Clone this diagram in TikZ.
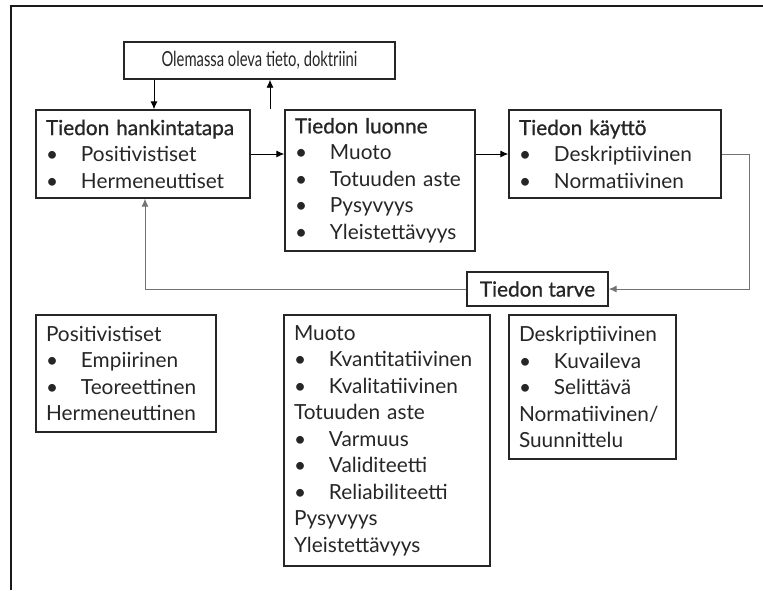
\documentclass[tikz,border=0pt]{standalone}
\usepackage{fontspec}
\setmainfont{Lato}
\newfontfamily\hdfont[FakeBold=0.9]{Lato}
\usetikzlibrary{arrows.meta}
\newcommand{\bul}{\makebox[35pt][l]{\textbullet}}
\tikzset{
  box/.style={draw=black!85, line width=1.4pt, inner xsep=10pt, inner ysep=0pt, align=left,
    text=black!85, font=\fontsize{20.8}{26.5}\selectfont},
  arr/.style={draw=black, line width=0.9pt, -{Latex[length=8pt,width=7pt]}},
  arrg/.style={draw=black!55, line width=1pt, -{Latex[length=8pt,width=7pt]}}
}
\begin{document}
\begin{tikzpicture}[x=1pt,y=-1pt]
\useasboundingbox (0,0) rectangle (763,590);
\draw[line width=2pt, black!90] (11,590) -- (11,6) -- (763,6);
\node[box, minimum width=271pt, minimum height=37pt, align=center] (title) at (259.5,60.5) {\resizebox{196pt}{\height}{Olemassa oleva tieto, doktriini}};
\node[box, minimum width=214pt, minimum height=88pt, text width=194pt] (hank) at (143,154)
  {{\hdfont Tiedon hankintatapa}\\ \bul Positivistiset\\ \bul Hermeneuttiset};
\node[box, minimum width=190pt, minimum height=141pt, text width=170pt] (luonne) at (380,180.5)
  {{\hdfont Tiedon luonne}\\ \bul Muoto\\ \bul Totuuden aste\\ \bul Pysyvyys\\ \bul Yleistettävyys};
\node[box, minimum width=212pt, minimum height=88pt, text width=192pt] (kaytto) at (615,154)
  {{\hdfont Tiedon käyttö}\\ \bul Deskriptiivinen\\ \bul Normatiivinen};
\node[box, minimum width=141pt, minimum height=34pt, align=center] (tarve) at (537.5,289)
  {\hdfont Tiedon tarve};
\node[box, minimum width=180pt, minimum height=117pt, text width=160pt] (bl) at (126,373.5)
  {Positivistiset\\ \bul Empiirinen\\ \bul Teoreettinen\\ Hermeneuttinen};
\node[box, minimum width=206pt, minimum height=251pt, text width=186pt] (bm) at (387,440.5)
  {Muoto\\ \bul Kvantitatiivinen\\ \bul Kvalitatiivinen\\ Totuuden aste\\ \bul Varmuus\\ \bul Validiteetti\\ \bul Reliabiliteetti\\ Pysyvyys\\ Yleistettävyys};
\node[box, minimum width=167pt, minimum height=144pt, text width=147pt] (br) at (592.5,387)
  {Deskriptiivinen\\ \bul Kuvaileva\\ \bul Selittävä\\ Normatiivinen/\\ Suunnittelu};
\draw[arr] ([xshift=-105.5pt]title.south) -- ([xshift=-105.5pt]title.south |- hank.north);
\draw[arr] ([xshift=-110pt]luonne.north) -- ([xshift=-110pt]luonne.north |- title.south);
\draw[arr] (hank.east) -- (hank.east -| luonne.west);
\draw[arr] (kaytto.west -| luonne.east) -- (kaytto.west);
\draw[arrg] (kaytto.east) -- ++(28,0) |- (tarve.east);
\draw[arrg] (tarve.west) -| ([xshift=2pt]hank.south);
\end{tikzpicture}
\end{document}
